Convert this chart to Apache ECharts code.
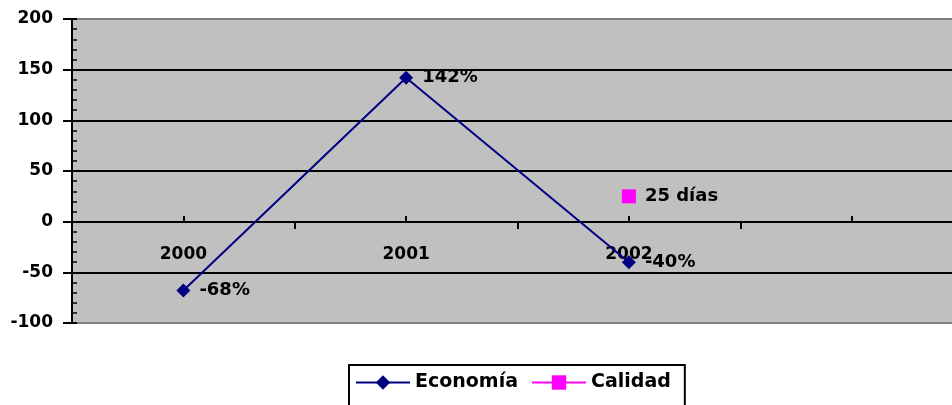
<!DOCTYPE html>
<html>
<head>
<meta charset="utf-8">
<script src="https://cdn.jsdelivr.net/npm/echarts@6/dist/echarts.min.js"></script>
<style>
html,body{margin:0;padding:0;background:#fff;}
#chart{width:952px;height:405px;}
</style>
</head>
<body>
<div id="chart"></div>
<script>
const categories = ['2000', '2001', '2002', ''];
const economia = [-68, 142, -40, null];
const economiaLabels = ['-68%', '142%', '-40%', ''];
const calidad = [null, null, 25, null];
const calidadLabels = ['', '', '25 días', ''];
const yMin = -100, yMax = 200, yInterval = 50;

const FONT = 'DejaVu Sans';
const chart = echarts.init(document.getElementById('chart'), null, {renderer: 'canvas'});
const blackLine = {color: '#000', width: 2};
const X_AXIS_SHIFT = -101; // lift category axis to the value 0 line

chart.setOption({
  animation: false,
  backgroundColor: '#fff',
  grid: {
    left: 72, top: 19, width: 891, height: 304,
    outerBoundsMode: 'none', containLabel: false,
    show: true, backgroundColor: '#C0C0C0', borderColor: '#808080', borderWidth: 2
  },
  legend: {
    left: 349, top: 365,
    padding: [8, 14, 30, 6],
    borderColor: '#000', borderWidth: 2,
    itemWidth: 54, itemHeight: 18, itemGap: 13,
    lineStyle: {width: 2},
    textStyle: {fontFamily: FONT, fontSize: 19, fontWeight: 'bold', color: '#000'},
    data: ['Economía', 'Calidad']
  },
  xAxis: [{
    type: 'category', data: categories, position: 'bottom', boundaryGap: true,
    offset: X_AXIS_SHIFT,
    axisLine: {show: true, onZero: false, lineStyle: blackLine},
    axisTick: {show: true, alignWithLabel: false, length: 7, lineStyle: blackLine},
    axisLabel: {margin: 24, color: '#000', fontFamily: FONT, fontSize: 17, fontWeight: 'bold'},
    splitLine: {show: false}
  }, {
    type: 'category', data: categories, position: 'bottom', boundaryGap: true,
    offset: X_AXIS_SHIFT,
    axisLine: {show: false, onZero: false},
    axisTick: {show: true, alignWithLabel: true, inside: true, length: 6, lineStyle: blackLine},
    axisLabel: {show: false},
    splitLine: {show: false}
  }],
  yAxis: [{
    type: 'value', min: yMin, max: yMax, interval: yInterval, position: 'left',
    axisLine: {show: true, lineStyle: blackLine},
    axisTick: {show: true, length: 9, lineStyle: blackLine},
    axisLabel: {margin: 19, color: '#000', fontFamily: FONT, fontSize: 17, fontWeight: 'bold'},
    splitLine: {show: true, showMinLine: false, showMaxLine: false, lineStyle: blackLine}
  }, {
    type: 'value', min: yMin, max: yMax, interval: yInterval, position: 'left',
    axisLine: {show: false},
    axisTick: {show: true, inside: true, length: 5, lineStyle: blackLine},
    minorTick: {show: true, splitNumber: 5, length: 5, lineStyle: {color: '#000', width: 1.5}},
    axisLabel: {show: false},
    splitLine: {show: false}
  }],
  series: [{
    name: 'Economía', type: 'line', xAxisIndex: 0, yAxisIndex: 0,
    data: economia, connectNulls: false,
    symbol: 'diamond', symbolSize: 14, showAllSymbol: true,
    itemStyle: {color: '#000080'},
    lineStyle: {color: '#000080', width: 2},
    label: {
      show: true, position: 'right', distance: 9,
      color: '#000', fontFamily: FONT, fontSize: 18, fontWeight: 'bold',
      formatter: p => economiaLabels[p.dataIndex]
    },
    z: 3
  }, {
    name: 'Calidad', type: 'line', xAxisIndex: 0, yAxisIndex: 0,
    data: calidad,
    symbol: 'rect', symbolSize: 14, showAllSymbol: true,
    itemStyle: {color: '#FF00FF'},
    lineStyle: {color: '#FF00FF', width: 2},
    label: {
      show: true, position: 'right', distance: 9,
      color: '#000', fontFamily: FONT, fontSize: 18, fontWeight: 'bold',
      formatter: p => calidadLabels[p.dataIndex]
    },
    z: 3
  }]
});
</script>
</body>
</html>
